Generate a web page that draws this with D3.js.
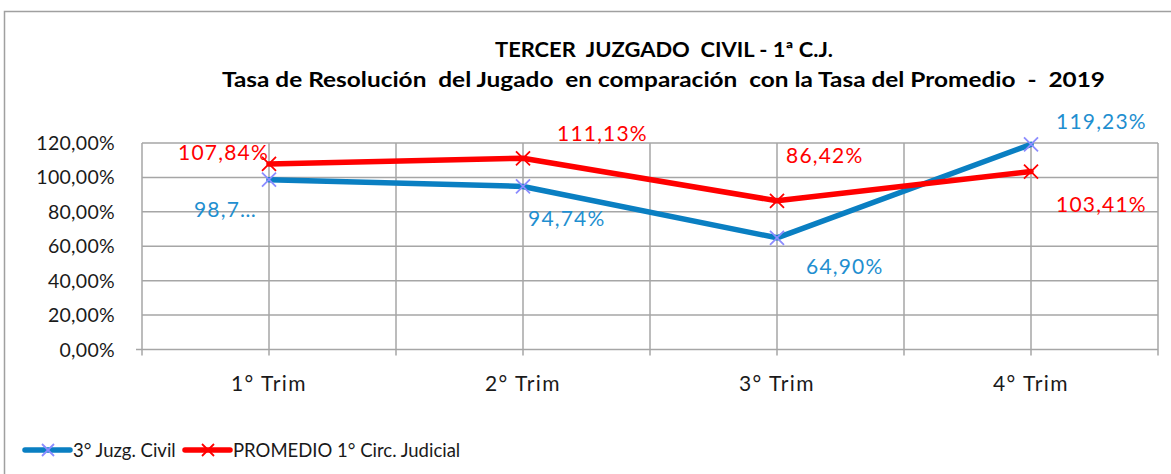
<!DOCTYPE html>
<html>
<head>
<meta charset="utf-8">
<script src="https://cdn.jsdelivr.net/npm/d3@7"></script>
<style>
  html, body { margin: 0; padding: 0; background: #fff; }
  svg { display: block; }
  text { font-family: Lato, "Open Sans", sans-serif; white-space: pre; }
</style>
</head>
<body>
<svg id="chart" width="1171" height="474"></svg>
<script>
// Quarters on the x axis
const categories = ["1° Trim", "2° Trim", "3° Trim", "4° Trim"];
// Resolution rate of the court (%)
const juzgado = [98.70, 94.74, 64.90, 119.23];
// Average rate of the 1st judicial circuit (%)
const promedio = [107.84, 111.13, 86.42, 103.41];
// Y axis ticks (%)
const yTicks = [0, 20, 40, 60, 80, 100, 120];
const seriesNames = ["3° Juzg. Civil", "PROMEDIO 1° Circ. Judicial"];
const titleLines = ["TERCER  JUZGADO  CIVIL - 1ª C.J.",
  "Tasa de Resolución  del Jugado  en comparación  con la Tasa del Promedio  -  2019"];

const svg = d3.select("#chart");
const W = 1171, H = 474;
const plot = { left: 142, right: 1158, top: 143, bottom: 349.5 };

const fmt = v => d3.format(".2f")(v).replace(".", ",") + "%";

// Chart frame
svg.append("path")
  .attr("d", `M4.5,${H} L4.5,11.5 L${W},11.5`)
  .attr("fill", "none").attr("stroke", "#a0a0a0").attr("stroke-width", 1.5);

// Title, two centred lines stretched to their set widths
const title = svg.append("g").attr("font-weight", "bold").attr("font-size", 20).attr("fill", "#000");
title.append("text").attr("x", 495).attr("y", 57)
  .attr("textLength", 338).attr("lengthAdjust", "spacingAndGlyphs").text(titleLines[0]);
title.append("text").attr("x", 222).attr("y", 87)
  .attr("textLength", 883).attr("lengthAdjust", "spacingAndGlyphs").text(titleLines[1]);

const x = d3.scaleBand().domain(categories).range([plot.left, plot.right]).paddingInner(0).paddingOuter(0);
const y = d3.scaleLinear().domain([0, 120]).range([plot.bottom, plot.top]);
const cx = c => x(c) + x.bandwidth() / 2;

// Gridlines
const grid = svg.append("g").attr("stroke", "#a6a6a6").attr("stroke-width", 1.5);
grid.selectAll("line.h").data(yTicks).join("line")
  .attr("x1", plot.left).attr("x2", plot.right)
  .attr("y1", d => y(d)).attr("y2", d => y(d));
const vlines = [];
categories.forEach((c, i) => { vlines.push(x(c) + x.bandwidth() / 2); vlines.push(x(c) + x.bandwidth()); });
vlines.unshift(plot.left);
grid.selectAll("line.v").data(vlines).join("line")
  .attr("x1", d => d).attr("x2", d => d)
  .attr("y1", plot.top).attr("y2", plot.bottom + 6);
grid.append("line").attr("x1", plot.left - 6).attr("x2", plot.left)
  .attr("y1", plot.bottom).attr("y2", plot.bottom);

// Y axis labels
svg.append("g").selectAll("text").data(yTicks).join("text")
  .attr("x", 115).attr("y", d => y(d) + 7)
  .attr("text-anchor", "end").attr("font-size", 19.5).attr("fill", "#1a1a1a")
  .attr("letter-spacing", 0.3)
  .text(d => fmt(d));

// X axis labels
svg.append("g").selectAll("text").data(categories).join("text")
  .attr("x", d => cx(d)).attr("y", 391)
  .attr("text-anchor", "middle").attr("font-size", 21).attr("fill", "#1a1a1a")
  .attr("letter-spacing", 1.5)
  .text(d => d);

const blue = "#0a7fc2", blueLabel = "#1f8fd0", blueMark = "#8c8cff", red = "#ff0000";

function drawSeries(values, color, markColor) {
  const line = d3.line().x((d, i) => cx(categories[i])).y(d => y(d));
  svg.append("path").datum(values).attr("d", line)
    .attr("fill", "none").attr("stroke", color).attr("stroke-width", 5.5)
    .attr("stroke-linejoin", "round").attr("stroke-linecap", "round");
  const s = 7;
  svg.append("g").selectAll("path").data(values).join("path")
    .attr("d", (d, i) => {
      const px = cx(categories[i]), py = y(d);
      return `M${px - s},${py - s}L${px + s},${py + s}M${px - s},${py + s}L${px + s},${py - s}`;
    })
    .attr("stroke", markColor).attr("stroke-width", 1.8).attr("fill", "none");
}
drawSeries(juzgado, blue, blueMark);
drawSeries(promedio, red, red);

// Data labels: offsets relative to the point, anchor side
const labelFont = 21;
function drawLabels(values, color, placement) {
  svg.append("g").selectAll("text").data(values).join("text")
    .attr("x", (d, i) => cx(categories[i]) + placement[i][0])
    .attr("y", (d, i) => y(d) + placement[i][1])
    .attr("text-anchor", (d, i) => placement[i][2])
    .attr("font-size", labelFont).attr("fill", color).attr("letter-spacing", 1.2)
    .text((d, i) => placement[i][3] ? fmt(d).slice(0, 4) + "…" : fmt(d));
}
drawLabels(juzgado, blueLabel, [
  [-12, 37, "end", true], [5, 40, "start"], [29, 36, "start"], [25, -15, "start"]
]);
drawLabels(promedio, red, [
  [0, -4, "end"], [34, -17, "start"], [9, -38, "start"], [25, 40, "start"]
]);

// Legend
const legend = svg.append("g").attr("transform", "translate(0,450)");
[[blue, blueMark, 25, seriesNames[0]], [red, red, 185, seriesNames[1]]].forEach(([c, m, lx, name]) => {
  legend.append("line").attr("x1", lx).attr("x2", lx + 45).attr("y1", 0).attr("y2", 0)
    .attr("stroke", c).attr("stroke-width", 5.5).attr("stroke-linecap", "round");
  const mx = lx + 23, s = 6;
  legend.append("path").attr("d", `M${mx - s},${-s}L${mx + s},${s}M${mx - s},${s}L${mx + s},${-s}`)
    .attr("stroke", m).attr("stroke-width", 1.8);
  legend.append("text").attr("x", lx + 48).attr("y", 7).attr("font-size", 18.5).attr("fill", "#1a1a1a").text(name);
});
</script>
</body>
</html>
